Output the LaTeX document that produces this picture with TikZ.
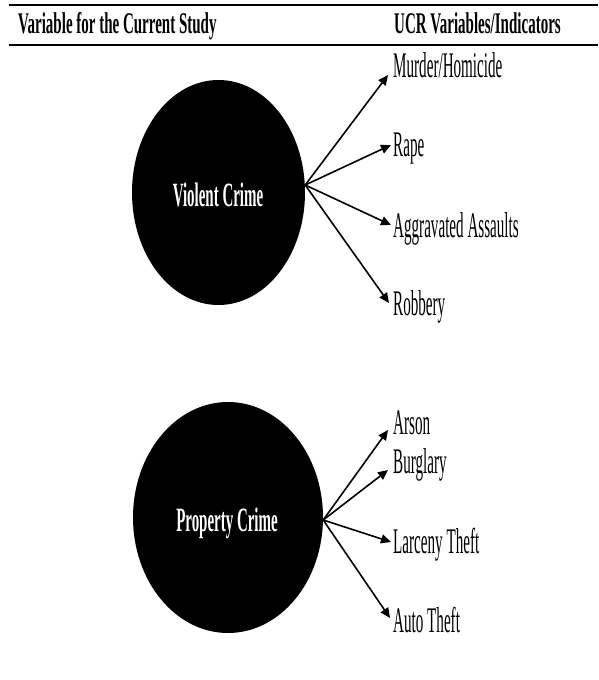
\documentclass[tikz,border=0pt]{standalone}
\usepackage{fontspec}
\setmainfont{Liberation Serif}
\usetikzlibrary{shapes.geometric,arrows.meta,calc}
% condensed type: the whole figure uses horizontally squeezed Times-like text
\newcommand\headtxt[1]{\scalebox{0.5}[1]{\fontsize{30}{30}\selectfont\bfseries #1}}
\newcommand\itemtxt[1]{\scalebox{0.42}[1]{\fontsize{36}{36}\selectfont #1}}
\newcommand\crimetxt[1]{\scalebox{0.44}[1]{\fontsize{34}{34}\selectfont\bfseries #1}}
\tikzset{
  rulebar/.style={line width=2.2pt},
  crimeblob/.style={ellipse, fill=black, draw=none, inner sep=0pt, text=white},
  itemlabel/.style={anchor=base west, inner sep=0pt},
  headlabel/.style={anchor=base west, inner sep=0pt},
  feed/.style={line width=1.6pt, -{Triangle[length=10pt,width=9pt]}},
}
\begin{document}
\begin{tikzpicture}[x=1pt,y=-1pt]
\useasboundingbox (0,0) rectangle (598,680);

% header rules and column titles
\coordinate (r1a) at (9,5);   \coordinate (r1b) at (598,5);
\coordinate (r2a) at (9,45);  \coordinate (r2b) at (598,45);
\draw[rulebar] (r1a) -- (r1b);
\draw[rulebar, line width=2pt] (r2a) -- (r2b);
\node[headlabel] (hleft) at (18,34) {\headtxt{Variable for the Current Study}};
\node[headlabel] (hright) at (394,34) {\headtxt{UCR Variables/Indicators}};

% violent crime group
\node[crimeblob, minimum width=173pt, minimum height=225pt] (vc) at (218.5,192.5) {};
\node[anchor=base, inner sep=0pt, text=white] (vct) at (218,206) {\crimetxt{Violent Crime}};

\node[itemlabel] (murder) at (393,77) {\itemtxt{Murder/Homicide}};
\node[itemlabel] (rape) at (393,156) {\itemtxt{Rape}};
\node[itemlabel] (aggr) at (393,237) {\itemtxt{Aggravated Assaults}};
\node[itemlabel] (robb) at (393,315) {\itemtxt{Robbery}};

\coordinate (vo) at ([yshift=7.5pt]vc.east);
\draw[feed] (vo) -- ([xshift=-5pt,yshift=2pt]murder.base west);
\draw[feed] (vo) -- ([xshift=-2pt,yshift=11pt]rape.base west);
\draw[feed] (vo) -- ([xshift=-2pt,yshift=12pt]aggr.base west);
\draw[feed] (vo) -- ([xshift=-4pt,yshift=12pt]robb.base west);

% property crime group
\node[crimeblob, minimum width=190pt, minimum height=231pt] (pc) at (228,517.5) {};
\node[anchor=base, inner sep=0pt, text=white] (pct) at (227,531) {\crimetxt{Property Crime}};

\node[itemlabel] (arson) at (393,434) {\itemtxt{Arson}};
\node[itemlabel] (burg) at (393,473) {\itemtxt{Burglary}};
\node[itemlabel] (larc) at (393,553) {\itemtxt{Larceny Theft}};
\node[itemlabel] (auto) at (393,632) {\itemtxt{Auto Theft}};

\coordinate (po) at ([yshift=-2.5pt]pc.east);
\draw[feed] (po) -- ([xshift=-5pt,yshift=4pt]arson.base west);
\draw[feed] (po) -- ([xshift=-5pt,yshift=3pt]burg.base west);
\draw[feed] (po) -- ([xshift=-2pt,yshift=11pt]larc.base west);
\draw[feed] (po) -- ([xshift=-3pt,yshift=14pt]auto.base west);
\end{tikzpicture}
\end{document}
